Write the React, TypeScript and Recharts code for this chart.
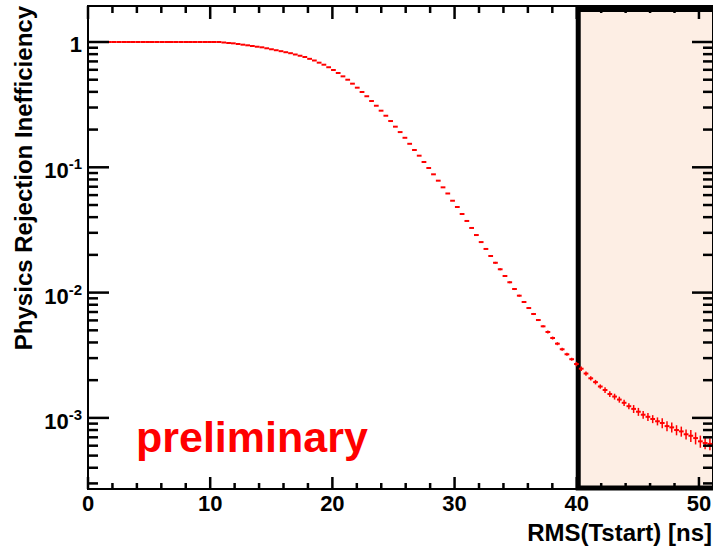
import { ScatterChart, Scatter, XAxis, YAxis, ErrorBar, ReferenceArea } from "recharts"

// ============================================================
// Data
// ============================================================

const BIN_WIDTH = 0.39

// physics rejection inefficiency per RMS(Tstart) bin, starting at 0 ns
const inefficiency = [
  1, 1, 1, 1, 1, 1, 1, 1, 1, 1,
  1, 1, 1, 1, 1, 1, 1, 1, 1, 1,
  1, 1, 1, 1, 1, 1, 1, 1, 0.991, 0.982,
  0.976, 0.964, 0.952, 0.941, 0.929, 0.917, 0.907, 0.891, 0.875, 0.86,
  0.845, 0.829, 0.814, 0.795, 0.777, 0.759, 0.734, 0.712, 0.684, 0.659,
  0.629, 0.598, 0.566, 0.532, 0.5, 0.465, 0.432, 0.399, 0.369, 0.338,
  0.31, 0.283, 0.258, 0.234, 0.211, 0.191, 0.172, 0.154, 0.1374, 0.1238,
  0.1102, 0.0987, 0.0879, 0.0782, 0.0692, 0.0618, 0.0541, 0.0482, 0.0424, 0.0373,
  0.0328, 0.0288, 0.0253, 0.0223, 0.0196, 0.0173, 0.01535, 0.01357, 0.01209, 0.01068,
  0.00945, 0.00841, 0.00753, 0.00675, 0.00604, 0.00538, 0.00485, 0.00434, 0.00391, 0.00353,
  0.00322, 0.00294, 0.00269, 0.00247, 0.00226, 0.00207, 0.00193, 0.00178, 0.00167, 0.00155,
  0.00148, 0.0014, 0.00132, 0.00124, 0.00118, 0.00112, 0.00106, 0.00102, 0.00098, 0.00094,
  0.00091, 0.00086, 0.00084, 0.0008, 0.00078, 0.00074, 0.00072, 0.00069, 0.00065, 0.00063,
  0.00062,
]

// statistical errors, visible only in the tail (from bin 85 on)
const TAIL_START = 85
const tailErrors = [
  0.0003, 0.00028, 0.00025, 0.00022, 0.0002, 0.00017, 0.00016, 0.00014, 0.00013, 0.00011,
  0.0001, 0.00014, 0.00012, 0.00011, 0.0001, 0.00009, 0.00008, 0.00011, 0.0001, 0.00009,
  0.00008, 0.00008, 0.00007, 0.00009, 0.000085, 0.00008, 0.000077, 0.000073, 0.000068, 0.000086,
  0.000082, 0.000077, 0.000074, 0.000072, 0.000069, 0.000084, 0.000079, 0.000077, 0.000074, 0.000072,
  0.000068, 0.000079, 0.000076, 0.000072, 0.000069, 0.000068,
]

const X_TICKS = [0, 2, 4, 6, 8, 10, 12, 14, 16, 18, 20, 22, 24, 26, 28, 30, 32, 34, 36, 38, 40, 42, 44, 46, 48, 50]
const Y_TICKS = [
  0.0003, 0.0004, 0.0005, 0.0006, 0.0007, 0.0008, 0.0009,
  0.001, 0.002, 0.003, 0.004, 0.005, 0.006, 0.007, 0.008, 0.009,
  0.01, 0.02, 0.03, 0.04, 0.05, 0.06, 0.07, 0.08, 0.09,
  0.1, 0.2, 0.3, 0.4, 0.5, 0.6, 0.7, 0.8, 0.9,
  1,
]

const X_DOMAIN = [0, 51.15]
const Y_DOMAIN = [0.0002707, 1.938]

// shaded "cut" region
const CUT_X = [40.12, 51.6]
const CUT_Y = [0.000276, 1.82]

// ============================================================
// Layout
// ============================================================

const W = 713
const H = 546
const LEFT = 88
const TOP = 6
const BOTTOM = 489
const FONT = "'Liberation Sans', Arial, Helvetica, sans-serif"
const RED = "#ff0000"

const rows = inefficiency.map((v, i) => ({
  x: (i + 0.5) * BIN_WIDTH,
  y: v,
  xErr: BIN_WIDTH / 2,
  yErr: i >= TAIL_START ? tailErrors[i - TAIL_START] : 0,
}))

// bottom ticks point up, mirrored ticks on the top edge point down
function renderXTick(props: any) {
  const x = Number(props.x)
  const y = Number(props.y)
  const value = props.payload.value
  const major = value % 10 === 0
  const len = major ? 12 : 6
  return (
    <g key={`xt-${value}`}>
      <path d={`M${x},${y}V${y - len}`} stroke="black" strokeWidth={2.5} fill="none" />
      <path d={`M${x},${TOP}V${TOP + len + 1}`} stroke="black" strokeWidth={2.5} fill="none" />
      <circle cx={x} cy={y} r={0} fill="black" />
      {major && (
        <text x={x} y={y + 22} textAnchor="middle" fontFamily={FONT} fontWeight="bold" fontSize={22} fill="black">
          {value}
        </text>
      )}
    </g>
  )
}

// left ticks point right, mirrored ticks on the right edge point left
function renderYTick(props: any) {
  const x = Number(props.x)
  const y = Number(props.y)
  const value = props.payload.value
  const lg = Math.log10(value)
  const exp = Math.round(lg)
  const major = Math.abs(lg - exp) < 1e-6
  const len = major ? 21 : 10
  return (
    <g key={`yt-${value}`}>
      <path d={`M${x},${y}H${x + len}`} stroke="black" strokeWidth={2.5} fill="none" />
      <path d={`M${W},${y}H${W - len}`} stroke="black" strokeWidth={2.5} fill="none" />
      <circle cx={x} cy={y} r={0} fill="black" />
      {major &&
        (exp === 0 ? (
          <text x={x - 6} y={y + 10} textAnchor="end" fontFamily={FONT} fontWeight="bold" fontSize={22} fill="black">
            1
          </text>
        ) : (
          <text x={x - 6} y={y + 11} textAnchor="end" fontFamily={FONT} fontWeight="bold" fontSize={22} fill="black">
            10
            <tspan fontSize={15} dy={-9}>
              {exp}
            </tspan>
          </text>
        ))}
    </g>
  )
}

const noMarker = () => <g />

const textBase = {
  position: "absolute" as const,
  fontFamily: FONT,
  fontWeight: "bold" as const,
  whiteSpace: "nowrap" as const,
  margin: 0,
}

export default function App() {
  return (
    <div style={{ position: "absolute", left: 0, top: 0, width: W, height: H, background: "#fff" }}>
      <ScatterChart width={W} height={H} margin={{ top: TOP, right: 0, bottom: 0, left: 0 }}>
        <ReferenceArea
          x1={CUT_X[0]}
          x2={CUT_X[1]}
          y1={CUT_Y[0]}
          y2={CUT_Y[1]}
          fill="#fdeee4"
          fillOpacity={1}
          stroke="#000"
          strokeWidth={5}
          ifOverflow="visible"
        />
        <ReferenceArea
          x1={X_DOMAIN[0]}
          x2={X_DOMAIN[1]}
          y1={Y_DOMAIN[0]}
          y2={Y_DOMAIN[1]}
          fill="none"
          stroke="#000"
          strokeWidth={2}
          ifOverflow="visible"
        />
        <XAxis
          type="number"
          dataKey="x"
          domain={X_DOMAIN}
          ticks={X_TICKS}
          interval={0}
          allowDataOverflow
          axisLine={{ stroke: "#000", strokeWidth: 2 }}
          tickLine={false}
          tickSize={0}
          tickMargin={0}
          height={H - BOTTOM}
          tick={renderXTick}
        />
        <YAxis
          type="number"
          dataKey="y"
          scale="log"
          domain={Y_DOMAIN}
          ticks={Y_TICKS}
          interval={0}
          allowDataOverflow
          axisLine={{ stroke: "#000", strokeWidth: 2 }}
          tickLine={false}
          tickSize={0}
          tickMargin={0}
          width={LEFT}
          tick={renderYTick}
        />
        <Scatter data={rows} fill={RED} shape={noMarker} isAnimationActive={false}>
          <ErrorBar dataKey="xErr" direction="x" width={0} stroke={RED} strokeWidth={2} isAnimationActive={false} />
          <ErrorBar dataKey="yErr" direction="y" width={0} stroke={RED} strokeWidth={1.5} isAnimationActive={false} />
        </Scatter>
      </ScatterChart>

      {/* titles as plain HTML text on top of the chart */}
      <div style={{ ...textBase, left: 136, top: 415.6, fontSize: 43, lineHeight: "43px", color: RED }}>
        preliminary
      </div>
      <div style={{ ...textBase, right: 1, top: 520.7, fontSize: 24, lineHeight: "24px", color: "#000" }}>
        RMS(Tstart) [ns]
      </div>
      <div
        style={{
          ...textBase,
          left: 0,
          top: 0,
          width: 400,
          textAlign: "right",
          fontSize: 24,
          lineHeight: "24px",
          color: "#000",
          transformOrigin: "0 0",
          transform: "translate(11.7px, 406px) rotate(-90deg)",
        }}
      >
        Physics Rejection Inefficiency
      </div>
    </div>
  )
}
